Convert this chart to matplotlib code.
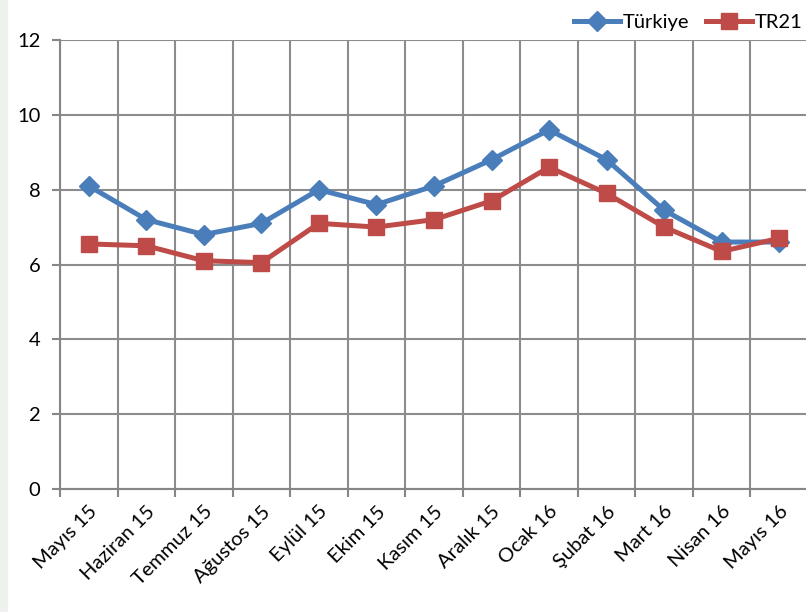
import numpy as np
import matplotlib.pyplot as plt
from matplotlib.patches import Rectangle

months = ["Mayıs 15", "Haziran 15", "Temmuz 15", "Ağustos 15", "Eylül 15", "Ekim 15",
          "Kasım 15", "Aralık 15", "Ocak 16", "Şubat 16", "Mart 16", "Nisan 16", "Mayıs 16"]
turkiye = [8.1, 7.2, 6.8, 7.1, 8.0, 7.6, 8.1, 8.8, 9.6, 8.8, 7.45, 6.6, 6.6]
tr21 = [6.55, 6.5, 6.1, 6.05, 7.1, 7.0, 7.2, 7.7, 8.6, 7.9, 7.0, 6.35, 6.7]

plt.rcParams['font.family'] = ['Lato', 'DejaVu Sans']

fig = plt.figure(figsize=(8.06, 6.12), dpi=100)
fig.patches.append(Rectangle((0, 0), 7 / 806, 1, transform=fig.transFigure,
                             color="#eef2ec", zorder=0))
ax = fig.add_axes([60 / 806, 123 / 612, 748 / 806, 449 / 612])

x = np.arange(len(months))
ax.plot(x, turkiye, color="#4a7ebb", lw=3.6, marker="D", ms=10, label="Türkiye",
        clip_on=False, zorder=3)
ax.plot(x, tr21, color="#be4b48", lw=3.6, marker="s", ms=11, label="TR21",
        clip_on=False, zorder=3)

ax.set_xlim(-0.5, len(months) - 0.5)
ax.set_ylim(0, 12)
ax.set_yticks(range(0, 13, 2))
ax.set_xticks(np.arange(-0.5, len(months), 1.0))
ax.set_xticklabels([])
ax.set_xticks(x, minor=True)
ax.set_xticklabels(months, minor=True, rotation=45, ha="right", rotation_mode="anchor",
                   fontsize=14.5)
ax.tick_params(axis="x", which="minor", length=0, pad=10)
ax.tick_params(axis="x", which="major", length=6, width=1.5, color="#868686")
ax.tick_params(axis="y", length=6, width=1.5, color="#868686", labelsize=14.5, pad=8)
ax.grid(True, which="major", color="#8c8c8c", lw=1.5)
ax.set_axisbelow(True)
for s in ["top", "right"]:
    ax.spines[s].set_visible(False)
for s in ["left", "bottom"]:
    ax.spines[s].set_color("#868686")
    ax.spines[s].set_linewidth(1.5)

ax.legend(loc="lower right", bbox_to_anchor=(1.005, 1.0), ncol=2, frameon=False,
          fontsize=14.5, handlelength=2.3, handletextpad=0.15, columnspacing=0.8,
          borderaxespad=0.05)

fig.savefig("out.png", dpi=100)
